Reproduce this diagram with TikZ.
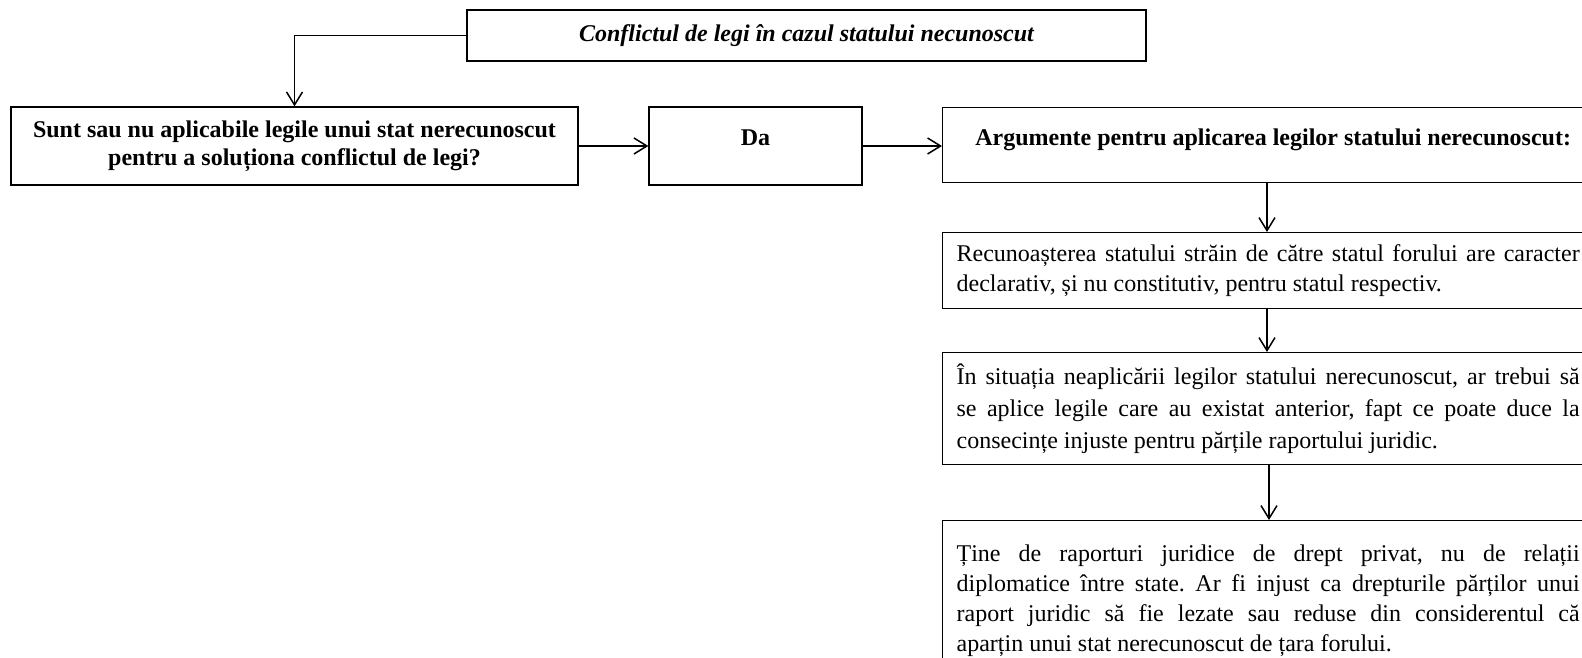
\documentclass[tikz,border=0pt]{standalone}
\usepackage{fontspec}
\setmainfont{Liberation Serif}
\usetikzlibrary{arrows.meta}
\frenchspacing
\begin{document}
\begin{tikzpicture}[x=1pt,y=-1pt,
  box/.style={draw, line width=1.3pt, inner sep=0pt, font=\fontsize{24}{30}\selectfont},
  hbox/.style={box, font=\fontsize{24}{28}\selectfont\bfseries},
  argbox/.style={box, anchor=north west, inner xsep=14pt, text width=623pt, align=justify},
  arr/.style={line width=1.5pt, -{Straight Barb[length=13pt,width=16pt]}}]
\clip (0,0) rectangle (1582,658);
\fill[white] (0,0) rectangle (1582,658);
\node[box, minimum width=679pt, minimum height=51pt, font=\fontsize{24}{28}\selectfont\bfseries\itshape] (title) at (806.5,35.5) {Conflictul de legi în cazul statului necunoscut};
\node[hbox, minimum width=567pt, minimum height=78pt, align=center] (q) at (294.5,146) {Sunt sau nu aplicabile legile unui stat nerecunoscut\\pentru a soluționa conflictul de legi?};
\node[hbox, minimum width=213pt, minimum height=78pt, text height=0pt, text depth=0pt] (da) at (755.5,146) {Da};
\node[hbox, anchor=north west, minimum width=661pt, minimum height=75pt, text height=0pt, text depth=0pt] (arg) at (942,107) {Argumente pentru aplicarea legilor statului nerecunoscut:};
\node[argbox, minimum height=76pt] (r1) at (942,232) {Recunoașterea statului străin de către statul forului are caracter\linebreak declarativ, și nu constitutiv, pentru statul respectiv.};
\node[argbox, minimum height=112pt, font=\fontsize{24}{32}\selectfont] (r2) at (942,352) {În situația neaplicării legilor statului nerecunoscut, ar trebui să\linebreak se aplice legile care au existat anterior, fapt ce poate duce la\linebreak consecințe injuste pentru părțile raportului juridic.};
\node[argbox, minimum height=160pt] (r3) at (942,520) {Ține de raporturi juridice de drept privat, nu de relații\linebreak diplomatice între state. Ar fi injust ca drepturile părților unui\linebreak raport juridic să fie lezate sau reduse din considerentul că\linebreak aparțin unui stat nerecunoscut de țara forului.};
\coordinate (c1) at (1267,0);
\coordinate (c2) at (1269,0);
\draw[arr] (title.west) -| (q.north);
\draw[arr] (q.east) -- (da.west);
\draw[arr] (da.east) -- (da.east -| arg.west);
\draw[arr] (arg.south -| c1) -- (r1.north -| c1);
\draw[arr] (r1.south -| c1) -- (r2.north -| c1);
\draw[arr] (r2.south -| c2) -- (r3.north -| c2);
\end{tikzpicture}
\end{document}
